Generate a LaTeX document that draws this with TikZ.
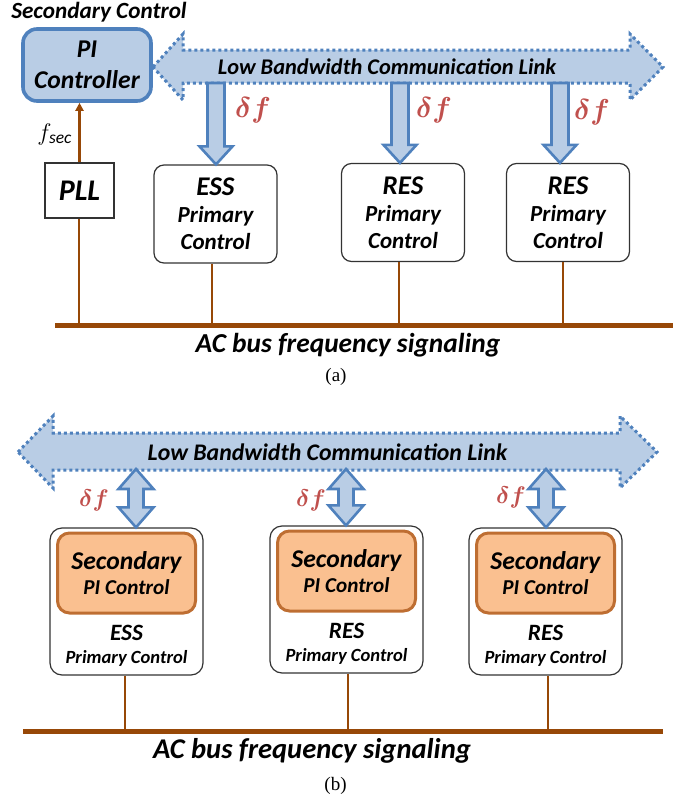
\documentclass[tikz,border=0pt]{standalone}
\usepackage{fontspec}
\setmainfont{Carlito}
\newfontfamily\capfont{Liberation Serif}
\usetikzlibrary{arrows.meta,calc}

\newcommand{\fsz}[2]{\fontsize{#1}{#2}\selectfont}

% block arrow pointing down, from #1 to #2
\newcommand{\blkdown}[2]{%
  \path[blkarrow] let \p1=(#1), \p2=(#2) in
    (\x1-4.25pt,\y1) -- (\x1+4.25pt,\y1) -- (\x1+4.25pt,\y2+9pt)
    -- (\x1+8.25pt,\y2+9pt) -- (\x1,\y2) -- (\x1-8.25pt,\y2+9pt)
    -- (\x1-4.25pt,\y2+9pt) -- cycle;}

% block arrow with two heads, between #1 (top) and #2 (bottom)
\newcommand{\blkboth}[2]{%
  \path[blkarrow] let \p1=(#1), \p2=(#2) in
    (\x1,\y1) -- (\x1+8.75pt,\y1-10pt) -- (\x1+3.75pt,\y1-10pt)
    -- (\x1+3.75pt,\y2+10pt) -- (\x1+8.75pt,\y2+10pt) -- (\x1,\y2)
    -- (\x1-8.75pt,\y2+10pt) -- (\x1-3.75pt,\y2+10pt)
    -- (\x1-3.75pt,\y1-10pt) -- (\x1-8.75pt,\y1-10pt) -- cycle;}

\begin{document}
\begin{tikzpicture}[x=0.5pt,y=-0.5pt,
    txt/.style={font=\bfseries\itshape\fsz{#1}{#1}},
    pibox/.style={draw=linkline, fill=linkfill, line width=1.8pt, rounded corners=7pt,
        minimum width=64pt, minimum height=36pt, align=center, inner sep=0pt},
    pllbox/.style={draw=black!80, line width=0.6pt, minimum width=34.5pt,
        minimum height=27.5pt, inner sep=0pt},
    primbox/.style={draw=black!80, line width=0.6pt, rounded corners=5pt,
        minimum width=61.5pt, minimum height=49pt, align=center, inner sep=0pt},
    outbox/.style={draw=black!80, line width=0.6pt, rounded corners=6pt,
        minimum width=76.5pt, minimum height=73.5pt, inner sep=0pt},
    secbox/.style={draw=secline, fill=secfill, line width=1.5pt, rounded corners=6pt,
        minimum width=69pt, minimum height=40pt, align=center, inner sep=0pt},
    link/.style={draw=linkline, fill=linkfill, line width=1.5pt,
        dash pattern=on 1.5pt off 1.5pt},
    blkarrow/.style={draw=linkline, fill=linkfill, line width=1.3pt},
    bus/.style={draw=busbrown, line width=2.5pt},
    tap/.style={draw=busbrown, line width=1.2pt},
    df/.style={text=dfred, font=\fsz{#1}{#1}\boldmath},
    figcap/.style={font=\capfont\fsz{9.5}{11}}
]

    % Colors
    \definecolor{linkfill}{RGB}{185,205,229} % light blue
    \definecolor{linkline}{RGB}{79,129,189} % blue
    \definecolor{secfill}{RGB}{250,192,144} % light orange
    \definecolor{secline}{RGB}{190,110,50} % dark orange
    \definecolor{busbrown}{RGB}{151,72,7} % brown
    \definecolor{dfred}{RGB}{192,80,77} % red

    \useasboundingbox (0,0) rectangle (685,798);

    % ---------- (a) ----------
    % Communication link
    \draw[link] (153,67) -- (183,34) -- (183,50) -- (630,50) -- (630,34) -- (663,67)
        -- (630,100) -- (630,83) -- (183,83) -- (183,100) -- cycle;
    \node[txt=11.2] (linka) at (387,67) {Low Bandwidth Communication Link};

    % Secondary controller
    \node[txt=11.6] (sectitle) at (99,12) {Secondary Control};
    \node[pibox, font=\bfseries\itshape\fsz{12.8}{15.5}] (pi) at (87,65) {PI\\Controller};

    % PLL and primary controls
    \node[pllbox, txt=15] (pll) at (79.5,190.5) {PLL};
    \node[primbox, font=\bfseries\itshape\fsz{11.5}{13.5}] (essa) at (215.5,214)
        {{\fsz{13.5}{13.5}ESS}\\Primary\\Control};
    \node[primbox, font=\bfseries\itshape\fsz{11.5}{13.5}] (resa1) at (403,212.5)
        {{\fsz{13.5}{13.5}RES}\\Primary\\Control};
    \node[primbox, font=\bfseries\itshape\fsz{11.5}{13.5}] (resa2) at (568,212.5)
        {{\fsz{13.5}{13.5}RES}\\Primary\\Control};

    % Frequency deviation down to the units
    \coordinate (da1) at (216,83);
    \coordinate (da2) at (400,83);
    \coordinate (da3) at (560,83);
    \blkdown{da1}{da1 |- essa.north}
    \blkdown{da2}{da2 |- resa1.north}
    \blkdown{da3}{da3 |- resa2.north}
    \node[df=15.5] (dfa1) at (253,110) {$\delta f$};
    \node[df=15.5] (dfa2) at (434,110) {$\delta f$};
    \node[df=15.5] (dfa3) at (592,112) {$\delta f$};

    % PLL feeds the controller
    \draw[tap, -{Triangle[length=4pt,width=4pt]}] (pll.north) -- (pll.north |- pi.south);
    \node[font=\fsz{12.5}{12.5}] (fsec) at (55,134) {$f_{\mathit{sec}}$};

    % AC bus
    \coordinate (busaW) at (55,325);
    \coordinate (busaE) at (673,325);
    \draw[bus] (busaW) -- (busaE);
    \foreach \n/\x [count=\i] in {pll/79,essa/212,resa1/399,resa2/563} {
        \coordinate (tapa\i) at (\x,325);
        \draw[tap] (tapa\i |- \n.south) -- (tapa\i);
    }
    \node[txt=13.7, anchor=base] (aca) at (348,352) {AC bus frequency signaling};
    \node[figcap] (capa) at (336,377) {(a)};

    % ---------- (b) ----------
    % Communication link
    \draw[link] (18,452) -- (53,416) -- (53,433) -- (620,433) -- (620,416) -- (657,452)
        -- (620,488) -- (620,470) -- (53,470) -- (53,488) -- cycle;
    \node[txt=11.9] (linkb) at (327.5,452) {Low Bandwidth Communication Link};

    % Units with secondary and primary control
    \foreach \i/\x/\y/\u in {1/126.5/601.5/ESS, 2/346.5/599.5/RES, 3/545.5/601.5/RES} {
        \node[outbox] (outb\i) at (\x,\y) {};
        \node[secbox, font=\bfseries\itshape\fsz{10.6}{12.5}] (secb\i) at (\x,\y-28.5)
            {{\fsz{12.8}{12.5}Secondary}\\PI Control};
        \node[align=center, font=\bfseries\itshape\fsz{9.3}{11.5}] (unitb\i) at (\x,\y+44.5)
            {{\fsz{11.7}{11.5}\u}\\Primary Control};
    }

    % Frequency deviation exchanged with the link
    \coordinate (db1) at (136,469);
    \coordinate (db2) at (346,469);
    \coordinate (db3) at (546,469);
    \blkboth{db1}{db1 |- outb1.north}
    \blkboth{db2}{db2 |- outb2.north}
    \blkboth{db3}{db3 |- outb3.north}
    \node[df=12.5] (dfb1) at (94,500) {$\delta f$};
    \node[df=12.5] (dfb2) at (311,500) {$\delta f$};
    \node[df=12.5] (dfb3) at (511,497) {$\delta f$};

    % AC bus
    \coordinate (busbW) at (23,731);
    \coordinate (busbE) at (663,731);
    \draw[bus] (busbW) -- (busbE);
    \foreach \x [count=\i] in {125,348,548} {
        \coordinate (tapb\i) at (\x,731);
        \draw[tap] (tapb\i |- outb\i.south) -- (tapb\i);
    }
    \node[txt=14.3, anchor=base] (acb) at (312,758) {AC bus frequency signaling};
    \node[figcap] (capb) at (335.5,786) {(b)};

\end{tikzpicture}
\end{document}
